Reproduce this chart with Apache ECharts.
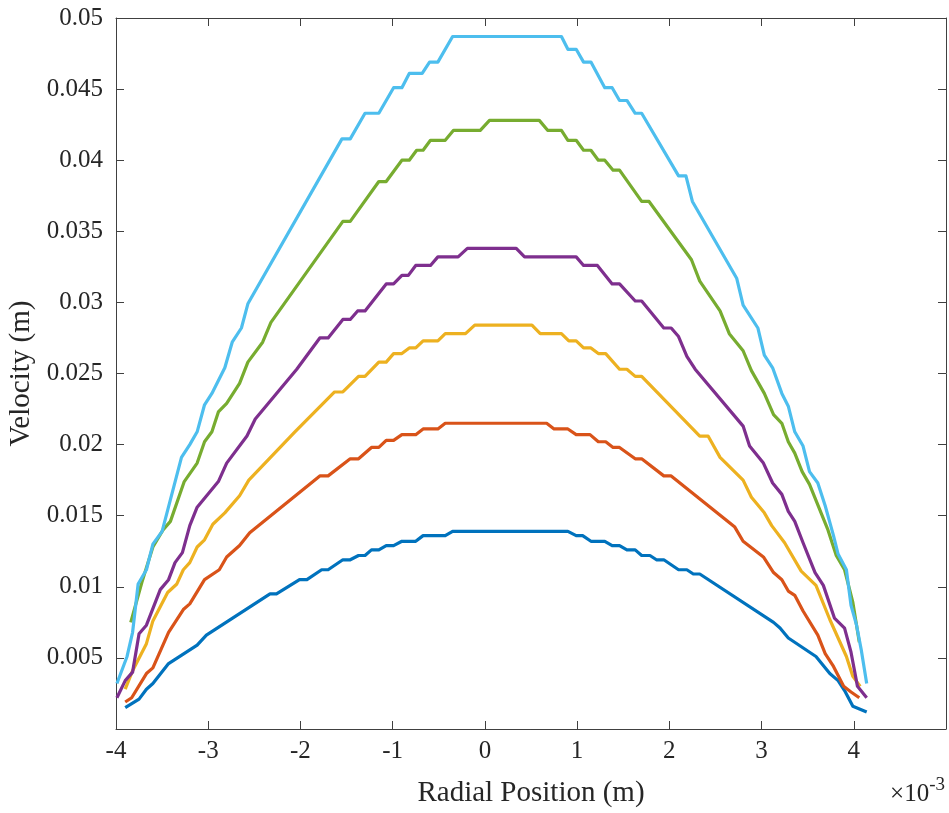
<!DOCTYPE html>
<html>
<head>
<meta charset="utf-8">
<script src="https://cdn.jsdelivr.net/npm/echarts@6/dist/echarts.min.js"></script>
<style>html,body{margin:0;padding:0;background:#fff}#c{width:949px;height:813px}</style>
</head>
<body>
<div id="c"></div>
<script>
// x values in units of 1e-3 m, y in m
const xTicks = [-4, -3, -2, -1, 0, 1, 2, 3, 4];
const yTicks = [0.005, 0.01, 0.015, 0.02, 0.025, 0.03, 0.035, 0.04, 0.045, 0.05];

const blueData = [[-3.90,0.0015],[-3.75,0.0021],[-3.67,0.0028],[-3.60,0.0032],[-3.43,0.0046],[-3.12,0.0059],[-3.02,0.0066],[-2.33,0.0095],[-2.26,0.0095],[-2.01,0.0105],[-1.93,0.0105],[-1.77,0.0112],[-1.70,0.0112],[-1.54,0.0119],[-1.46,0.0119],[-1.37,0.0122],[-1.30,0.0122],[-1.23,0.0126],[-1.15,0.0126],[-1.07,0.0129],[-0.99,0.0129],[-0.90,0.0132],[-0.75,0.0132],[-0.67,0.0136],[-0.43,0.0136],[-0.35,0.0139],[0.90,0.0139],[0.99,0.0136],[1.06,0.0136],[1.15,0.0132],[1.30,0.0132],[1.38,0.0129],[1.46,0.0129],[1.54,0.0126],[1.63,0.0126],[1.70,0.0122],[1.79,0.0122],[1.86,0.0119],[1.94,0.0119],[2.10,0.0112],[2.19,0.0112],[2.26,0.0109],[2.33,0.0109],[3.13,0.0075],[3.20,0.0071],[3.29,0.0064],[3.59,0.0051],[3.74,0.0039],[3.83,0.0034],[3.90,0.0027],[3.99,0.0016],[4.14,0.0012]];

const orangeData = [[-3.90,0.0019],[-3.83,0.0022],[-3.67,0.0039],[-3.60,0.0043],[-3.43,0.0068],[-3.27,0.0084],[-3.20,0.0088],[-3.04,0.0105],[-2.88,0.0112],[-2.80,0.0121],[-2.66,0.0129],[-2.55,0.0138],[-1.79,0.0178],[-1.70,0.0178],[-1.46,0.0190],[-1.37,0.0190],[-1.23,0.0198],[-1.15,0.0198],[-1.07,0.0203],[-0.99,0.0203],[-0.90,0.0207],[-0.75,0.0207],[-0.67,0.0211],[-0.51,0.0211],[-0.43,0.0215],[0.67,0.0215],[0.75,0.0211],[0.90,0.0211],[0.99,0.0207],[1.14,0.0207],[1.23,0.0202],[1.31,0.0202],[1.39,0.0198],[1.46,0.0198],[1.63,0.0190],[1.70,0.0190],[1.94,0.0178],[2.02,0.0178],[2.71,0.0142],[2.80,0.0132],[3.02,0.0121],[3.13,0.0110],[3.22,0.0105],[3.29,0.0097],[3.36,0.0094],[3.45,0.0083],[3.61,0.0066],[3.69,0.0053],[3.78,0.0044],[3.89,0.0030],[3.97,0.0026],[4.06,0.0022]];

const yellowData = [[-3.90,0.0028],[-3.82,0.0041],[-3.67,0.0060],[-3.60,0.0076],[-3.44,0.0096],[-3.34,0.0102],[-3.27,0.0112],[-3.20,0.0117],[-3.12,0.0128],[-3.04,0.0133],[-2.95,0.0144],[-2.82,0.0152],[-2.66,0.0164],[-2.56,0.0175],[-2.06,0.0209],[-1.63,0.0237],[-1.54,0.0237],[-1.37,0.0248],[-1.30,0.0248],[-1.15,0.0258],[-1.07,0.0258],[-0.99,0.0264],[-0.90,0.0264],[-0.82,0.0268],[-0.75,0.0268],[-0.67,0.0273],[-0.51,0.0273],[-0.43,0.0278],[-0.21,0.0278],[-0.11,0.0284],[0.51,0.0284],[0.60,0.0278],[0.83,0.0278],[0.91,0.0273],[0.99,0.0273],[1.07,0.0268],[1.15,0.0268],[1.23,0.0264],[1.31,0.0264],[1.46,0.0253],[1.54,0.0253],[1.63,0.0248],[1.70,0.0248],[2.33,0.0206],[2.42,0.0206],[2.55,0.0191],[2.80,0.0175],[2.89,0.0163],[3.03,0.0152],[3.11,0.0143],[3.25,0.0131],[3.43,0.0111],[3.59,0.0101],[3.74,0.0077],[3.83,0.0064],[3.92,0.0051],[3.99,0.0037],[4.07,0.0030]];

const purpleData = [[-3.99,0.0022],[-3.90,0.0034],[-3.82,0.0040],[-3.75,0.0067],[-3.67,0.0073],[-3.52,0.0098],[-3.43,0.0105],[-3.36,0.0117],[-3.28,0.0124],[-3.20,0.0143],[-3.12,0.0156],[-2.89,0.0174],[-2.80,0.0187],[-2.58,0.0206],[-2.49,0.0218],[-2.04,0.0253],[-1.79,0.0275],[-1.70,0.0275],[-1.54,0.0288],[-1.46,0.0288],[-1.38,0.0294],[-1.30,0.0294],[-1.07,0.0313],[-0.99,0.0313],[-0.90,0.0319],[-0.83,0.0319],[-0.75,0.0326],[-0.59,0.0326],[-0.51,0.0332],[-0.29,0.0332],[-0.19,0.0338],[0.34,0.0338],[0.43,0.0332],[0.99,0.0332],[1.07,0.0326],[1.22,0.0326],[1.38,0.0313],[1.46,0.0313],[1.63,0.0301],[1.70,0.0301],[1.94,0.0282],[2.02,0.0282],[2.10,0.0276],[2.19,0.0262],[2.28,0.0253],[2.80,0.0213],[2.87,0.0199],[3.02,0.0187],[3.12,0.0173],[3.22,0.0165],[3.29,0.0153],[3.36,0.0146],[3.45,0.0131],[3.58,0.0110],[3.67,0.0101],[3.79,0.0078],[3.90,0.0071],[3.97,0.0054],[4.04,0.0030],[4.14,0.0022]];

const greenData = [[-3.84,0.0075],[-3.72,0.0103],[-3.60,0.0128],[-3.49,0.0140],[-3.41,0.0146],[-3.26,0.0174],[-3.12,0.0187],[-3.04,0.0202],[-2.96,0.0209],[-2.89,0.0223],[-2.80,0.0229],[-2.66,0.0243],[-2.57,0.0258],[-2.41,0.0272],[-2.32,0.0286],[-1.54,0.0357],[-1.46,0.0357],[-1.15,0.0385],[-1.07,0.0385],[-0.90,0.0400],[-0.82,0.0400],[-0.74,0.0407],[-0.67,0.0407],[-0.59,0.0414],[-0.43,0.0414],[-0.34,0.0421],[-0.05,0.0421],[0.05,0.0428],[0.59,0.0428],[0.68,0.0421],[0.83,0.0421],[0.90,0.0414],[0.99,0.0414],[1.07,0.0407],[1.15,0.0407],[1.23,0.0400],[1.30,0.0400],[1.39,0.0393],[1.46,0.0393],[1.70,0.0371],[1.78,0.0371],[2.24,0.0330],[2.33,0.0315],[2.55,0.0294],[2.65,0.0278],[2.80,0.0266],[2.89,0.0252],[3.03,0.0236],[3.13,0.0221],[3.22,0.0215],[3.29,0.0202],[3.36,0.0194],[3.44,0.0181],[3.52,0.0172],[3.72,0.0140],[3.81,0.0122],[3.90,0.0112],[3.99,0.0089],[4.06,0.0061]];

const lightBlueData = [[-3.99,0.0032],[-3.88,0.0051],[-3.82,0.0068],[-3.76,0.0102],[-3.67,0.0112],[-3.60,0.0130],[-3.50,0.0139],[-3.29,0.0191],[-3.20,0.0200],[-3.12,0.0209],[-3.04,0.0228],[-2.96,0.0236],[-2.82,0.0254],[-2.74,0.0272],[-2.64,0.0282],[-2.57,0.0299],[-1.55,0.0415],[-1.46,0.0415],[-1.30,0.0433],[-1.15,0.0433],[-0.99,0.0451],[-0.90,0.0451],[-0.82,0.0461],[-0.68,0.0461],[-0.60,0.0469],[-0.51,0.0469],[-0.35,0.0487],[0.83,0.0487],[0.90,0.0478],[0.99,0.0478],[1.07,0.0469],[1.15,0.0469],[1.30,0.0451],[1.38,0.0451],[1.46,0.0442],[1.54,0.0442],[1.63,0.0433],[1.70,0.0433],[2.10,0.0389],[2.18,0.0389],[2.25,0.0371],[2.73,0.0317],[2.80,0.0298],[2.96,0.0282],[3.03,0.0263],[3.12,0.0254],[3.22,0.0236],[3.29,0.0227],[3.36,0.0209],[3.45,0.0199],[3.52,0.0181],[3.61,0.0173],[3.69,0.0157],[3.78,0.0136],[3.83,0.0123],[3.92,0.0112],[3.97,0.0087],[4.03,0.0073],[4.08,0.0056],[4.14,0.0032]];

const seriesList = [
  {name: 'S1', data: blueData, color: '#0072BD'},
  {name: 'S2', data: orangeData, color: '#D95319'},
  {name: 'S3', data: yellowData, color: '#EDB120'},
  {name: 'S4', data: purpleData, color: '#7E2F8E'},
  {name: 'S5', data: greenData, color: '#77AC30'},
  {name: 'S6', data: lightBlueData, color: '#4DBEEE'}
];

const FONT = "'Liberation Serif', 'Times New Roman', serif";
const AX = '#404040';
const TXT = '#262626';

const chart = echarts.init(document.getElementById('c'), null, {renderer: 'canvas'});

function xFmt(v) { return xTicks.indexOf(Math.round(v)) >= 0 && Math.abs(v - Math.round(v)) < 1e-9 ? String(Math.round(v)) : ''; }
function yFmt(v) {
  const r = +v.toFixed(4);
  return yTicks.some(t => Math.abs(t - r) < 1e-9) ? String(r) : '';
}

const baseAxis = {
  axisLine: {show: true, onZero: false, lineStyle: {color: AX, width: 1}},
  axisTick: {show: true, inside: true, length: 8, lineStyle: {color: AX, width: 1}},
  splitLine: {show: false}
};

chart.setOption({
  animation: false,
  backgroundColor: '#fff',
  grid: {left: 116, right: 3, top: 18, bottom: 84, containLabel: false, outerBoundsMode: 'none'},
  xAxis: [
    Object.assign({}, baseAxis, {
      type: 'value', position: 'bottom', min: -4, max: 5, interval: 1,
      name: 'Radial Position (m)', nameLocation: 'middle', nameGap: 50,
      nameTextStyle: {fontFamily: FONT, fontSize: 29, color: TXT},
      axisLabel: {formatter: xFmt, fontFamily: FONT, fontSize: 25, color: TXT, margin: 10}
    }),
    Object.assign({}, baseAxis, {
      type: 'value', position: 'top', min: -4, max: 5, interval: 1,
      axisLabel: {show: false}
    })
  ],
  yAxis: [
    Object.assign({}, baseAxis, {
      type: 'value', position: 'left', min: 0, max: 0.05, interval: 0.005,
      name: 'Velocity (m)', nameLocation: 'middle', nameGap: 80, nameRotate: 90,
      nameTextStyle: {fontFamily: FONT, fontSize: 29, color: TXT},
      axisLabel: {formatter: yFmt, fontFamily: FONT, fontSize: 25, color: TXT, margin: 13}
    }),
    Object.assign({}, baseAxis, {
      type: 'value', position: 'right', min: 0, max: 0.05, interval: 0.005,
      axisLabel: {show: false}
    })
  ],
  series: seriesList.map(s => ({
    name: s.name, type: 'line', data: s.data, xAxisIndex: 0, yAxisIndex: 0,
    showSymbol: false, symbol: 'none', smooth: false,
    lineStyle: {color: s.color, width: 3.2, join: 'round', cap: 'butt'},
    itemStyle: {color: s.color},
    emphasis: {disabled: true}
  })),
  graphic: [{
    type: 'text', right: 4, bottom: 6,
    style: {
      text: '{a|×10}{b|-3}',
      fontFamily: FONT,
      rich: {
        a: {fontFamily: FONT, fontSize: 25, fill: TXT, verticalAlign: 'bottom'},
        b: {fontFamily: FONT, fontSize: 19, fill: TXT, verticalAlign: 'top', padding: [0, 0, 12, 0]}
      }
    }
  }]
});
</script>
</body>
</html>
